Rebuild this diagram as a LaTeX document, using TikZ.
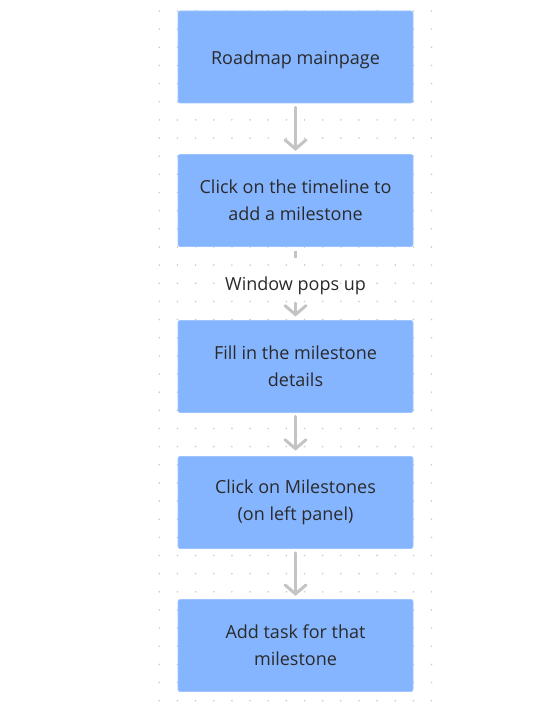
\documentclass[tikz,border=0pt]{standalone}
\usepackage{fontspec}
\setmainfont{Open Sans}
\usetikzlibrary{arrows.meta}
\definecolor{boxblue}{HTML}{86B5FF}
\definecolor{arrowgray}{HTML}{C4C4C4}
\definecolor{txtgray}{HTML}{2A2A2A}
\definecolor{dotgray}{HTML}{CCCCCC}
\tikzset{
  stepbox/.style={draw=boxblue!80!white, line width=0.6pt, fill=boxblue, rounded corners=2pt,
    minimum width=235pt, minimum height=92pt, inner sep=0pt, align=center,
    text=txtgray, font=\fontsize{18}{27}\selectfont},
  flow/.style={draw=arrowgray, line width=3pt, line cap=round,
    -{Straight Barb[length=9pt,width=21pt,line cap=round]}},
  seg/.style={draw=arrowgray, line width=3pt},
  lbl/.style={text=txtgray, font=\fontsize{18}{27}\selectfont, inner sep=0pt}
}
\begin{document}
\begin{tikzpicture}[x=1pt,y=-1pt]
\useasboundingbox (0,0) rectangle (551,714);
\fill[white] (0,0) rectangle (551,714);
\foreach \i in {0,...,15}{
  \foreach \j in {0,...,38}{
    \fill[dotgray] (159.3+\i*18.15, 11+\j*18.15) circle (0.9pt);
  }
}
\node[stepbox] (b1) at (295.5,57) {\raisebox{0pt}[16pt][0pt]{Roadmap mainpage}};
\node[stepbox] (b2) at (295.5,200.5) {Click on the timeline to\\add a milestone};
\node[stepbox] (b3) at (295.5,366.5) {Fill in the milestone\\details};
\node[stepbox] (b4) at (295.5,502.5) {Click on Milestones\\(on left panel)};
\node[stepbox] (b5) at (295.5,645.5) {Add task for that\\milestone};
\node[lbl] (l1) at (295.5,285.5) {Window pops up};
\coordinate (c1) at (295.5,258);
\coordinate (c2) at (295.5,303);
\draw[flow, shorten <=4pt, shorten >=3.3pt] (b1) -- (b2);
\draw[seg, shorten <=4pt] (b2.south) -- (c1);
\draw[flow, shorten >=3.6pt] (c2) -- (b3.north);
\draw[flow, shorten <=3.5pt, shorten >=5.5pt] (b3) -- (b4);
\draw[flow, shorten <=4pt, shorten >=3.3pt] (b4) -- (b5);
\end{tikzpicture}
\end{document}
